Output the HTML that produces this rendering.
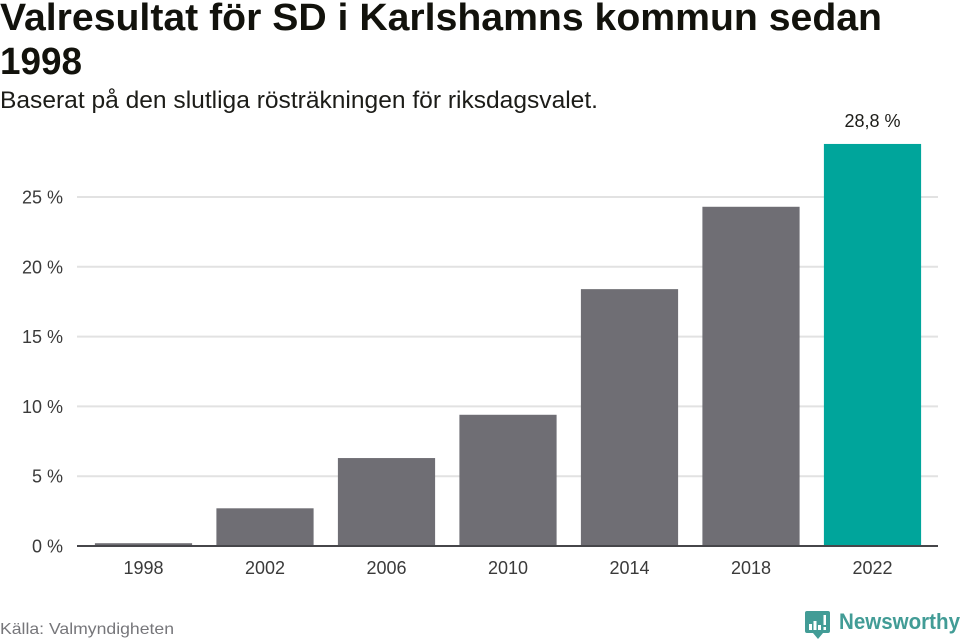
<!DOCTYPE html>
<html lang="sv">
<head>
<meta charset="utf-8">
<title>Valresultat för SD i Karlshamns kommun sedan 1998</title>
<style>
html,body{margin:0;padding:0;background:#fff;}
svg{display:block;font-family:"Liberation Sans",sans-serif;}
</style>
</head>
<body>
<svg id="chart" width="960" height="640" viewBox="0 0 960 640" xmlns="http://www.w3.org/2000/svg">
  <text x="0" y="30" font-size="38" font-weight="700" fill="#12120c" textLength="882" lengthAdjust="spacingAndGlyphs">Valresultat för SD i Karlshamns kommun sedan</text>
  <text x="0" y="74" font-size="38" font-weight="700" fill="#12120c" textLength="82" lengthAdjust="spacingAndGlyphs">1998</text>
  <text x="0" y="108" font-size="24" fill="#1c1c18" textLength="598" lengthAdjust="spacingAndGlyphs">Baserat på den slutliga rösträkningen för riksdagsvalet.</text>
  <g id="grid"></g>
  <g id="yticks"></g>
  <g id="bars"></g>
  <line x1="77" x2="938" y1="546" y2="546" stroke="#46464a" stroke-width="2"></line>
  <g id="xticks"></g>
  <text x="0" y="634" font-size="16" fill="#76767a" textLength="174" lengthAdjust="spacingAndGlyphs">Källa: Valmyndigheten</text>
  <g>
    <path d="M807 611H828Q830 611 830 613V631Q830 633 828 633H823L818 639L813 633H807Q805 633 805 631V613Q805 611 807 611Z" fill="#429c96"></path>
    <rect x="809" y="624" width="3" height="6" fill="#fff"></rect>
    <rect x="813.500" y="621" width="3" height="9" fill="#fff"></rect>
    <rect x="818" y="625" width="3" height="5" fill="#fff"></rect>
    <rect x="823.500" y="615" width="2.500" height="10" fill="#fff"></rect>
    <rect x="823.500" y="627" width="2.500" height="3" fill="#fff"></rect>
    <text x="839" y="629" font-size="22" font-weight="700" fill="#429c96" textLength="121" lengthAdjust="spacingAndGlyphs">Newsworthy</text>
  </g>
</svg>
<script>
const categories = ['1998', '2002', '2006', '2010', '2014', '2018', '2022'];
const seriesValues = [0.2, 2.7, 6.3, 9.4, 18.4, 24.3, 28.8];
const yTickValues = [0, 5, 10, 15, 20, 25];
const yTickLabels = ['0 %', '5 %', '10 %', '15 %', '20 %', '25 %'];
const highlightedLabel = '28,8 %';

const NS = 'http://www.w3.org/2000/svg';
const plot = { left: 82.75, right: 933.25, zeroY: 546, pxPerUnit: 13.96, barRatio: 0.8 };

function yScale(v) {
  return plot.zeroY - v * plot.pxPerUnit;
}
function xStep() {
  return (plot.right - plot.left) / categories.length;
}
function xCenter(i) {
  return plot.left + xStep() * (i + 0.5);
}
function barWidth() {
  return xStep() * plot.barRatio;
}
function make(tag, attrs, parent, text) {
  const el = document.createElementNS(NS, tag);
  for (const k in attrs) el.setAttribute(k, attrs[k]);
  if (text !== undefined) el.textContent = text;
  parent.appendChild(el);
  return el;
}

const gridG = document.getElementById('grid');
const yG = document.getElementById('yticks');
const barsG = document.getElementById('bars');
const xG = document.getElementById('xticks');

yTickValues.forEach(function (v, i) {
  if (v !== 0) {
    const line = make('line', { x1: 77, x2: 938, y1: yScale(v), y2: yScale(v), stroke: '#e2e2e2', 'stroke-width': 2 }, gridG);
    
    
  }
  const label = make('text', { x: 63, y: yScale(v) + 6.5, 'font-size': 18, fill: '#3a3a3a', 'text-anchor': 'end' }, yG, yTickLabels[i]);
  
  
});

categories.forEach(function (c, i) {
  const v = seriesValues[i];
  const last = i === categories.length - 1;
  const rect = make('rect', {
    x: xCenter(i) - barWidth() / 2,
    y: yScale(v),
    width: barWidth(),
    height: plot.zeroY - yScale(v),
    fill: last ? '#00a59b' : '#6f6e74'
  }, barsG);
  
  
  const tick = make('text', { x: xCenter(i), y: 574, 'font-size': 18, fill: '#3a3a3a', 'text-anchor': 'middle' }, xG, c);
  
  
  if (last) {
    const val = make('text', { x: xCenter(i), y: yScale(v) - 17, 'font-size': 18, fill: '#1c1c18', 'text-anchor': 'middle' }, barsG, highlightedLabel);
    
    
  }
});
</script>
</body>
</html>
